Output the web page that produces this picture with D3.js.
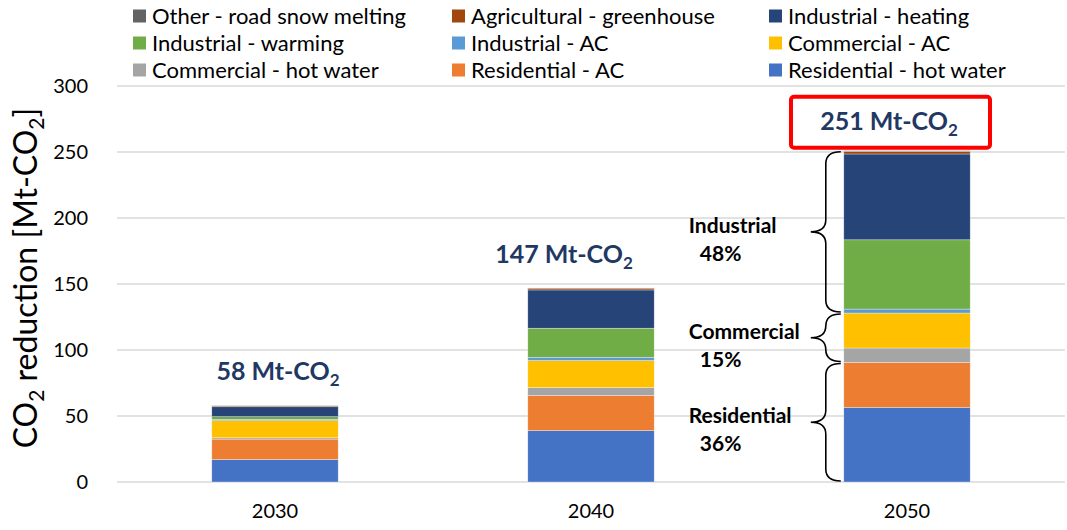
<!DOCTYPE html>
<html>
<head>
<meta charset="utf-8">
<script src="https://cdn.jsdelivr.net/npm/d3@7"></script>
<style>
  html, body { margin: 0; padding: 0; background: #fff; }
  svg { display: block; font-family: Lato, "Open Sans", sans-serif; }
</style>
</head>
<body>
<svg id="chart" width="1067" height="530"></svg>
<script>
// Years on the x axis
const years = ["2030", "2040", "2050"];

// Series in stacking order (bottom to top), values in Mt-CO2
const seriesNames = [
  "Residential - hot water",
  "Residential - AC",
  "Commercial - hot water",
  "Commercial - AC",
  "Industrial - AC",
  "Industrial - warming",
  "Industrial - heating",
  "Agricultural - greenhouse",
  "Other - road snow melting"
];
const residentialHotWater = [17, 39, 56.5];
const residentialAC       = [15.5, 26.5, 34];
const commercialHotWater  = [1, 6, 11];
const commercialAC        = [13, 20.5, 26.5];
const industrialAC        = [1, 2.5, 3];
const industrialWarming   = [2, 22, 52.5];
const industrialHeating   = [7.5, 29, 65];
const agriculturalGreenhouse = [0.7, 1.3, 2];
const otherRoadSnowMelting   = [0.3, 0.2, 0.5];

const seriesColors = [
  "#4472C4", "#ED7D31", "#A5A5A5", "#FFC000", "#5B9BD5",
  "#70AD47", "#264478", "#9E480E", "#636363"
];

// Legend order (row by row, three columns)
const legendOrder = [
  "Other - road snow melting", "Agricultural - greenhouse", "Industrial - heating",
  "Industrial - warming", "Industrial - AC", "Commercial - AC",
  "Commercial - hot water", "Residential - AC", "Residential - hot water"
];

const yTicks = [0, 50, 100, 150, 200, 250, 300];

// Sector groups bracketed on the 2050 bar
const sectorGroups = [
  { name: "Industrial",  series: ["Industrial - AC", "Industrial - warming", "Industrial - heating"], topToTotal: true },
  { name: "Commercial",  series: ["Commercial - hot water", "Commercial - AC"] },
  { name: "Residential", series: ["Residential - hot water", "Residential - AC"] }
];

const seriesValues = [
  residentialHotWater, residentialAC, commercialHotWater, commercialAC,
  industrialAC, industrialWarming, industrialHeating,
  agriculturalGreenhouse, otherRoadSnowMelting
];

const rows = years.map((yr, i) => {
  const r = { year: yr };
  seriesNames.forEach((s, k) => { r[s] = seriesValues[k][i]; });
  return r;
});
const totals = years.map((_, i) => d3.sum(seriesValues, v => v[i]));

const svg = d3.select("#chart");
const margin = { left: 117, right: 2, top: 86, bottom: 48 };
const W = 1067, H = 530;

const x = d3.scaleBand().domain(years)
  .range([margin.left, W - margin.right])
  .paddingInner(0.6).paddingOuter(0.3);
const y = d3.scaleLinear().domain([0, 300]).range([H - margin.bottom, margin.top]);

// Gridlines
svg.append("g").selectAll("line").data(yTicks).join("line")
  .attr("x1", margin.left).attr("x2", W - margin.right)
  .attr("y1", d => y(d)).attr("y2", d => y(d))
  .attr("stroke", "#D9D9D9").attr("stroke-width", 1.3);

// Y axis labels
const yAxis = d3.axisLeft(y).tickValues(yTicks).tickSize(0).tickPadding(0);
svg.append("g").attr("transform", `translate(${margin.left - 29},0)`)
  .call(yAxis)
  .call(g => g.select(".domain").remove())
  .call(g => g.selectAll("text").attr("font-size", 20).attr("fill", "#000")
    .attr("font-family", "Lato, sans-serif"));

// X axis labels
const xAxis = d3.axisBottom(x).tickSize(0).tickPadding(0);
svg.append("g").attr("transform", `translate(0,${y(0) + 22})`)
  .call(xAxis)
  .call(g => g.select(".domain").remove())
  .call(g => g.selectAll("text").attr("font-size", 20).attr("fill", "#000")
    .attr("font-family", "Lato, sans-serif"));

// Y axis title
const yTitle = svg.append("text")
  .attr("transform", `translate(37,${(y(0) + y(300)) / 2 - 6}) rotate(-90)`)
  .attr("text-anchor", "middle").attr("font-size", 32).attr("fill", "#000");
yTitle.append("tspan").text("CO");
yTitle.append("tspan").attr("font-size", 21).attr("dy", 7).text("2");
yTitle.append("tspan").attr("dy", -7).text(" reduction [Mt-CO");
yTitle.append("tspan").attr("font-size", 21).attr("dy", 7).text("2");
yTitle.append("tspan").attr("dy", -7).text("]");

// Stacked bars
const stack = d3.stack().keys(seriesNames)(rows);
const color = d3.scaleOrdinal().domain(seriesNames).range(seriesColors);
svg.append("g").selectAll("g").data(stack).join("g")
  .attr("fill", d => color(d.key))
  .selectAll("rect").data(d => d).join("rect")
  .attr("x", d => x(d.data.year))
  .attr("width", x.bandwidth())
  .attr("y", d => y(d[1]))
  .attr("height", d => y(d[0]) - y(d[1]))
  .attr("stroke", "rgba(255,255,255,0.55)").attr("stroke-width", 0.6);

// Total labels
const labelShift = [3, -27, -18];
const labelLift = [25, 25, 21];
totals.forEach((t, i) => {
  const cx = x(years[i]) + x.bandwidth() / 2 + labelShift[i];
  const by = y(t) - labelLift[i];
  const txt = svg.append("text").attr("x", cx).attr("y", by)
    .attr("text-anchor", "middle").attr("font-size", 25).attr("font-weight", 700)
    .attr("fill", "#1F3864");
  txt.append("tspan").text(`${Math.round(t)} Mt-CO`);
  txt.append("tspan").attr("font-size", 17).attr("dy", 6).text("2");
  if (i === years.length - 1) {
    svg.append("rect")
      .attr("x", cx - 98).attr("y", by - 33)
      .attr("width", 199).attr("height", 51)
      .attr("rx", 3)
      .attr("fill", "none").attr("stroke", "#FF0000").attr("stroke-width", 4);
  }
});

// Curly braces with sector shares for the last year
const lastIdx = years.length - 1;
const lastTotal = totals[lastIdx];
const barLeft = x(years[lastIdx]);
let cursor = 0;
const groupBounds = sectorGroups.slice().reverse().map(g => {
  const sum = d3.sum(g.series, s => seriesValues[seriesNames.indexOf(s)][lastIdx]);
  const lo = cursor;
  const hi = g.topToTotal ? lastTotal : cursor + sum;
  cursor += sum;
  return { name: g.name, share: sum / lastTotal, lo, hi };
});

function bracePath(xEnd, xMid, xTip, y0, y1) {
  const r = 12;
  const ym = (y0 + y1) / 2;
  const p = d3.path();
  p.moveTo(xEnd, y0);
  p.quadraticCurveTo(xMid, y0, xMid, y0 + r);
  p.lineTo(xMid, ym - r);
  p.quadraticCurveTo(xMid, ym, xTip, ym);
  p.quadraticCurveTo(xMid, ym, xMid, ym + r);
  p.lineTo(xMid, y1 - r);
  p.quadraticCurveTo(xMid, y1, xEnd, y1);
  return p.toString();
}

groupBounds.forEach(g => {
  const y0 = y(g.hi) + 1, y1 = y(g.lo) - 1;
  svg.append("path")
    .attr("d", bracePath(barLeft - 3, barLeft - 18, barLeft - 33, y0, y1))
    .attr("fill", "none").attr("stroke", "#000").attr("stroke-width", 1.6);
  const tipY = (y(g.hi) + y(g.lo)) / 2;
  svg.append("text").attr("x", barLeft - 155).attr("y", tipY + 1)
    .attr("font-size", 21).attr("font-weight", 700).attr("fill", "#000")
    .text(g.name);
  svg.append("text").attr("x", barLeft - 144).attr("y", tipY + 29)
    .attr("font-size", 21).attr("font-weight", 700).attr("fill", "#000")
    .text(`${Math.round(g.share * 100)}%`);
});

// Legend
const legendCols = [133, 452, 769];
const legendRows = [16, 43, 70];
const legend = svg.append("g").selectAll("g").data(legendOrder).join("g")
  .attr("transform", (d, i) => `translate(${legendCols[i % 3]},${legendRows[Math.floor(i / 3)]})`);
legend.append("rect").attr("x", 0).attr("y", -6.5).attr("width", 13).attr("height", 13)
  .attr("fill", d => color(d));
legend.append("text").attr("x", 19).attr("y", 0).attr("dy", "0.35em")
  .attr("font-size", 22).attr("fill", "#000").text(d => d);
</script>
</body>
</html>
